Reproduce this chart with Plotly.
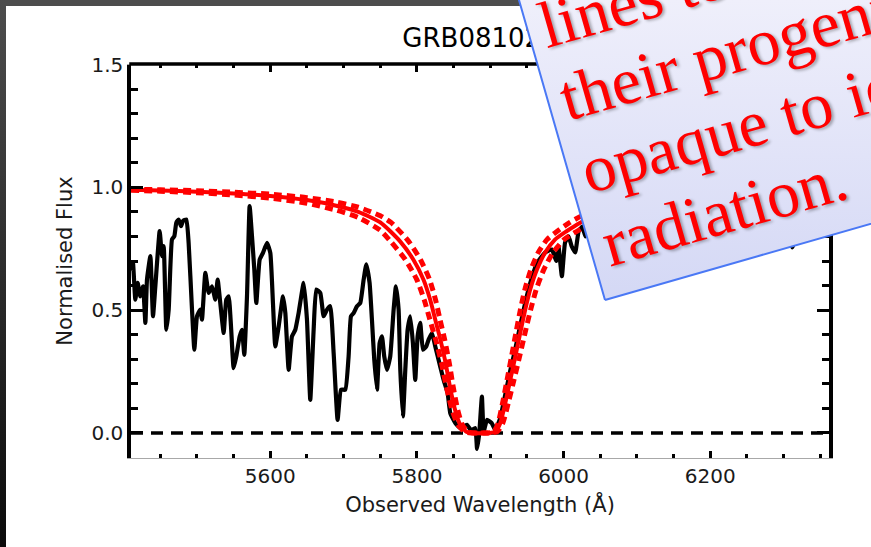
import math
import plotly.graph_objects as go

# ---------------- data ----------------
wl_obs = [5411.0, 5412.7, 5415.9, 5419.1, 5422.7, 5426.4, 5429.6, 5431.8, 5436.4, 5440.0,
          5443.2, 5449.1, 5452.3, 5454.6, 5458.2, 5461.4, 5465.9, 5469.1, 5471.8, 5475.0,
          5478.2, 5480.9, 5485.5, 5488.6, 5493.2, 5496.4, 5500.0, 5504.5, 5506.8, 5511.4,
          5515.9, 5520.5, 5525.0, 5528.2, 5532.7, 5536.4, 5540.0, 5543.2, 5546.4, 5550.0,
          5553.6, 5558.2, 5561.4, 5564.5, 5568.2, 5571.8, 5575.0, 5578.2, 5580.9, 5585.5,
          5590.0, 5595.5, 5600.0, 5603.6, 5606.8, 5611.4, 5617.3, 5620.5, 5625.0, 5629.5,
          5634.1, 5638.6, 5645.5, 5650.0, 5654.5, 5659.1, 5662.7, 5668.2, 5672.7, 5677.3,
          5681.8, 5686.4, 5691.8, 5696.4, 5702.3, 5706.8, 5710.0, 5713.6, 5718.2, 5722.7,
          5727.3, 5730.9, 5735.4, 5738.6, 5741.8, 5745.5, 5749.1, 5752.3, 5755.4, 5759.1,
          5763.6, 5768.2, 5771.3, 5775.0, 5777.3, 5780.9, 5784.1, 5787.3, 5790.9, 5794.5,
          5797.7, 5800.9, 5804.5, 5808.2, 5812.7, 5815.9, 5820.5, 5825.0, 5831.8, 5836.4,
          5841.8, 5845.5, 5852.3, 5859.0, 5868.0, 5874.0, 5879.5, 5882.0, 5885.0, 5888.6,
          5891.0, 5895.5, 5902.0, 5906.8, 5913.6, 5920.0, 5927.0, 5934.0, 5941.0, 5947.7,
          5954.5, 5963.6, 5975.0, 5984.0, 5990.0, 5993.0, 5997.7, 6002.0, 6006.8, 6011.0,
          6015.9, 6020.5, 6025.5, 6030.0, 6040.0, 6052.0, 6065.0, 6080.0, 6095.0, 6110.0,
          6125.0, 6140.0, 6155.0, 6170.0, 6185.0, 6200.0, 6215.0, 6230.0, 6245.0, 6260.0,
          6275.0, 6290.0, 6303.0, 6312.0, 6320.0, 6330.0]
flux_obs = [0.660, 0.693, 0.543, 0.611, 0.556, 0.597, 0.448, 0.624, 0.720, 0.475,
            0.597, 0.822, 0.720, 0.761, 0.420, 0.502, 0.788, 0.801, 0.856, 0.869,
            0.842, 0.863, 0.869, 0.774, 0.502, 0.339, 0.475, 0.502, 0.461, 0.652,
            0.570, 0.597, 0.543, 0.624, 0.502, 0.407, 0.543, 0.556, 0.434, 0.264,
            0.312, 0.393, 0.420, 0.318, 0.556, 0.924, 0.801, 0.665, 0.529, 0.706,
            0.733, 0.774, 0.733, 0.529, 0.352, 0.434, 0.556, 0.488, 0.257, 0.393,
            0.420, 0.488, 0.611, 0.461, 0.135, 0.420, 0.584, 0.570, 0.475, 0.502,
            0.516, 0.325, 0.053, 0.176, 0.176, 0.312, 0.475, 0.488, 0.516, 0.529,
            0.624, 0.686, 0.611, 0.461, 0.298, 0.176, 0.366, 0.393, 0.312, 0.257,
            0.312, 0.502, 0.597, 0.502, 0.257, 0.067, 0.257, 0.420, 0.475, 0.366,
            0.216, 0.393, 0.448, 0.339, 0.352, 0.380, 0.407, 0.352, 0.270, 0.216,
            0.163, 0.080, 0.040, 0.020, 0.033, 0.010, 0.020, -0.065, 0.000, 0.148,
            0.005, 0.053, 0.040, 0.012, 0.060, 0.150, 0.250, 0.340, 0.440, 0.530,
            0.610, 0.690, 0.735, 0.747, 0.700, 0.760, 0.638, 0.775, 0.800, 0.760,
            0.735, 0.820, 0.840, 0.800, 0.860, 0.830, 0.880, 0.850, 0.900, 0.870,
            0.920, 0.880, 0.930, 0.890, 0.940, 0.900, 0.930, 0.880, 0.920, 0.890,
            0.930, 0.870, 0.840, 0.755, 0.840, 0.900]

# best-fit damped absorption profile (solid red)
wl_fit = [5410, 5450, 5500, 5550, 5600, 5650, 5690, 5720, 5750, 5777, 5795, 5809, 5818,
          5825, 5832, 5839, 5845, 5852, 5859, 5868, 5876, 5898, 5907, 5913.6, 5920.5,
          5927.3, 5934.1, 5940.9, 5947.7, 5954.5, 5963.7, 5975, 5988.6, 6004.5, 6022.7,
          6050, 6100, 6150, 6200, 6260, 6362]
flux_fit = [0.990, 0.987, 0.982, 0.975, 0.965, 0.948, 0.925, 0.900, 0.857, 0.780, 0.706,
            0.624, 0.543, 0.461, 0.380, 0.286, 0.188, 0.094, 0.033, 0.004, 0.0, 0.0, 0.005,
            0.039, 0.122, 0.216, 0.310, 0.408, 0.502, 0.584, 0.665, 0.735, 0.788, 0.822,
            0.856, 0.895, 0.935, 0.955, 0.968, 0.977, 0.986]

# upper bound profile (dashed red, narrower)
wl_hi = [5410, 5450, 5500, 5550, 5600, 5650, 5690, 5720, 5750, 5764.6, 5788.7, 5804.7,
         5817.3, 5825.3, 5831.5, 5837.8, 5844.0, 5849.4, 5855.6, 5861.9, 5869.9, 5877.1,
         5896.7, 5904.8, 5910.6, 5916.8, 5922.9, 5928.9, 5935.0, 5941.1, 5947.2, 5955.4,
         5965.5, 5977.6, 5991.8, 6008.0, 6032.4, 6100, 6150, 6200, 6260, 6362]
flux_hi = [0.992, 0.990, 0.986, 0.980, 0.972, 0.958, 0.940, 0.919, 0.884, 0.857, 0.780,
           0.706, 0.624, 0.543, 0.461, 0.380, 0.286, 0.188, 0.094, 0.033, 0.004, 0.0,
           0.0, 0.005, 0.039, 0.122, 0.216, 0.310, 0.408, 0.502, 0.584, 0.665, 0.735,
           0.788, 0.822, 0.856, 0.895, 0.948, 0.964, 0.974, 0.982, 0.989]

# lower bound profile (dashed red, wider)
wl_lo = [5410, 5450, 5500, 5550, 5600, 5650, 5690, 5720, 5750, 5764.0, 5784.1, 5799.8,
         5809.8, 5817.7, 5825.5, 5833.4, 5840.1, 5847.9, 5855.8, 5865.8, 5874.8, 5899.4,
         5909.5, 5916.9, 5924.6, 5932.3, 5939.9, 5947.5, 5955.1, 5962.7, 5973.0, 5985.7,
         6000.9, 6018.7, 6039.1, 6065, 6100, 6150, 6200, 6260, 6362]
flux_lo = [0.988, 0.984, 0.978, 0.969, 0.956, 0.935, 0.907, 0.877, 0.825, 0.780, 0.706,
           0.624, 0.543, 0.461, 0.380, 0.286, 0.188, 0.094, 0.033, 0.004, 0.0, 0.0,
           0.005, 0.039, 0.122, 0.216, 0.310, 0.408, 0.502, 0.584, 0.665, 0.735, 0.788,
           0.822, 0.856, 0.885, 0.919, 0.944, 0.960, 0.971, 0.983]

x_range = [5410, 6362]
y_range = [-0.1, 1.5]
zero_level = [0.0, 0.0]
title_text = "GRB081029"
x_title = "Observed Wavelength (Å)"
y_title = "Normalised Flux"
slide_lines = ["lines telling us", "their progenitors are", "opaque to ionizing", "radiation."]

# ---------------- geometry (pixels) ----------------
W, H = 871, 547
PL, PR, PT, PB = 131, 829, 64.5, 457.5
SANS = "DejaVu Sans"

fig = go.Figure()

# main chart traces
fig.add_trace(go.Scatter(x=x_range, y=zero_level, mode="lines",
                         line=dict(color="black", width=3.5, dash="12px,8px"),
                         hoverinfo="skip"))
fig.add_trace(go.Scatter(x=wl_obs, y=flux_obs, mode="lines",
                         line=dict(color="black", width=4.2, shape="spline", smoothing=0.4),
                         hoverinfo="skip"))
fig.add_trace(go.Scatter(x=wl_hi, y=flux_hi, mode="lines",
                         line=dict(color="#ff0000", width=5, dash="8px,5px",
                                   shape="spline", smoothing=0.6), hoverinfo="skip"))
fig.add_trace(go.Scatter(x=wl_lo, y=flux_lo, mode="lines",
                         line=dict(color="#ff0000", width=5, dash="8px,5px",
                                   shape="spline", smoothing=0.6), hoverinfo="skip"))
fig.add_trace(go.Scatter(x=wl_fit, y=flux_fit, mode="lines",
                         line=dict(color="#ff0000", width=4, shape="spline", smoothing=0.6),
                         hoverinfo="skip"))

# ---------------- overlay (slide decorations, pixel axes) ----------------
ov = dict(xaxis="x2", yaxis="y2", hoverinfo="skip")
fig.add_trace(go.Scatter(x=[(PL + PR) / 2], y=[40.5], mode="text", text=[title_text],
                         textposition="middle center",
                         textfont=dict(family=SANS, size=26, color="black"), **ov))
fig.add_trace(go.Scatter(x=[PL - 1.75, PR + 1.75], y=[PT - 0.5, PT - 0.5], mode="lines",
                         line=dict(color="black", width=3.5), **ov))
# dark slide frame
fig.add_trace(go.Scatter(x=[0, W, W, 0, 0], y=[0, 0, 6, 6, 0], mode="lines", fill="toself",
                         fillcolor="#4d4d4d", line=dict(width=0, color="#4d4d4d"), **ov))
fig.add_trace(go.Scatter(x=[0, 6, 6, 0, 0], y=[0, 0, H, H, 0], mode="lines", fill="toself",
                         fillgradient=dict(type="vertical",
                                           colorscale=[[0, "#4d4d4d"], [1, "#0b0b0b"]],
                                           start=0, stop=H),
                         line=dict(width=0, color="#222"), **ov))

# rotated call-out box
ang = math.radians(16.0)
d = (math.cos(ang), -math.sin(ang))      # along text baseline
n = (math.sin(ang), math.cos(ang))       # "down" in the box frame
BL = (605.0, 300.0)
BR = (BL[0] + 700 * d[0], BL[1] + 700 * d[1])
TL = (BL[0] - 520 * n[0], BL[1] - 520 * n[1])
TR = (TL[0] + 700 * d[0], TL[1] + 700 * d[1])
fig.add_trace(go.Scatter(x=[BL[0], BR[0], TR[0], TL[0], BL[0]],
                         y=[BL[1], BR[1], TR[1], TL[1], BL[1]],
                         mode="lines", fill="toself",
                         fillgradient=dict(type="vertical",
                                           colorscale=[[0, "#d4d8f5"], [1, "#efeffb"]],
                                           start=300, stop=0),
                         line=dict(color="#4a78f5", width=2), **ov))

# text lines of the call-out
FS = 66
L = 76.0
S_last = (607.5, 268.3)
desc = 0.216 * FS + 1
boxh = 1.107 * FS + 2


def build_annotations(shadow):
    anns = []
    m = len(slide_lines)
    for k, txt in enumerate(slide_lines):
        j = (m - 1) - k
        sx = S_last[0] - j * L * n[0]
        sy = S_last[1] - j * L * n[1]
        blx, bly = sx + desc * n[0], sy + desc * n[1]
        tlx = blx - boxh * n[0]
        font = dict(family="Liberation Serif", size=FS, color="#ff0000")
        if shadow:
            font["shadow"] = "2px 2px 3px rgba(0,0,0,0.3)"
        anns.append(dict(text=txt, xref="paper", yref="paper", x=tlx / W, y=1 - bly / H,
                         xanchor="left", yanchor="bottom", showarrow=False,
                         textangle=-16.0, font=font, align="left"))
    return anns


layout = dict(
    width=W, height=H, autosize=False,
    margin=dict(l=0, r=0, t=0, b=0, pad=0, autoexpand=False),
    paper_bgcolor="white", plot_bgcolor="rgba(0,0,0,0)", showlegend=False,
    xaxis=dict(domain=[PL / W, PR / W], range=x_range, anchor="y", automargin=False,
               showline=True, linecolor="#a8a8a8", linewidth=1, mirror="ticks",
               ticks="inside", ticklen=7, tickwidth=2.5, tickcolor="black",
               tick0=5400, dtick=200,
               minor=dict(ticks="inside", dtick=50, ticklen=3.5, tickwidth=2.5,
                          tickcolor="black"),
               showgrid=False, zeroline=False,
               tickfont=dict(family=SANS, size=20, color="#1a1a1a"),
               title=dict(text=x_title, font=dict(family=SANS, size=21, color="#1a1a1a"),
                          standoff=10)),
    yaxis=dict(domain=[1 - PB / H, 1 - PT / H], range=y_range, anchor="x", automargin=False,
               showline=True, linecolor="black", linewidth=3.5, mirror="ticks",
               ticks="inside", ticklen=12, tickwidth=2.5, tickcolor="black",
               tick0=0, dtick=0.5, tickformat=".1f",
               minor=dict(ticks="inside", dtick=0.1, ticklen=7, tickwidth=2.5,
                          tickcolor="black"),
               showgrid=False, zeroline=False,
               tickfont=dict(family=SANS, size=20, color="#1a1a1a"),
               title=dict(text=y_title, font=dict(family=SANS, size=21, color="#1a1a1a"),
                          standoff=14)),
    xaxis2=dict(domain=[0, 1], range=[0, W], visible=False, anchor="y2", fixedrange=True),
    yaxis2=dict(domain=[0, 1], range=[H, 0], visible=False, anchor="x2", fixedrange=True),
)
fig.update_layout(**layout)

try:
    fig.update_layout(annotations=build_annotations(True))
except ValueError:
    fig.update_layout(annotations=build_annotations(False))

fig.write_html("out.html", config={"displayModeBar": False})
